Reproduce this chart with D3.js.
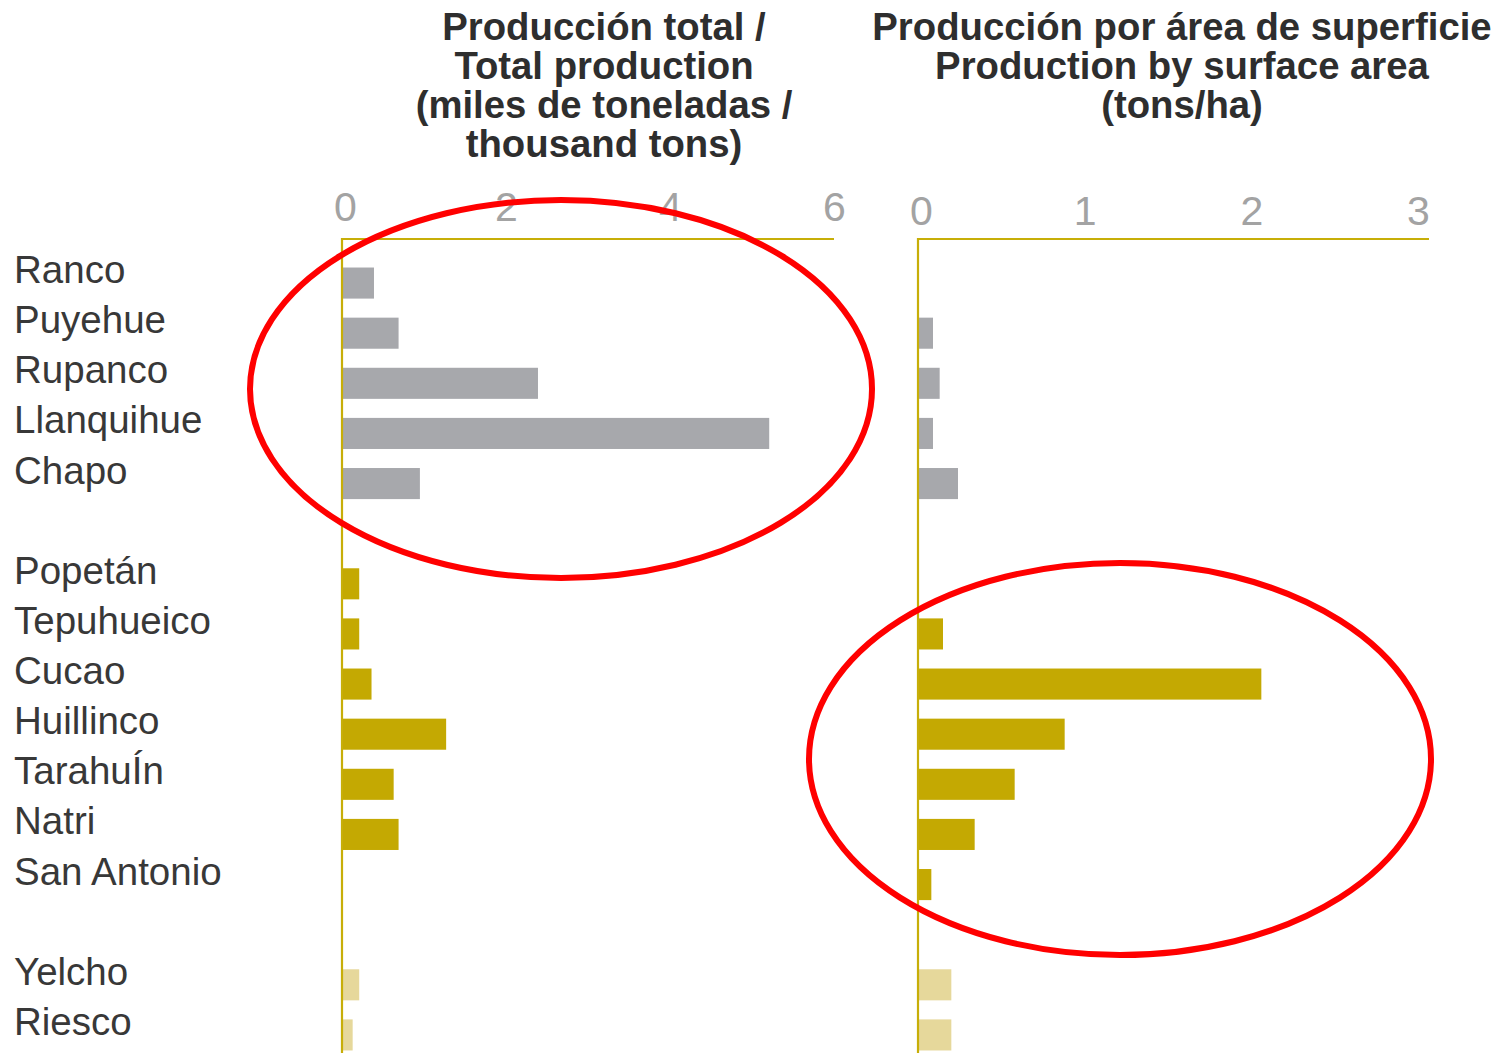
<!DOCTYPE html>
<html>
<head>
<meta charset="utf-8">
<script src="https://cdn.jsdelivr.net/npm/d3@7"></script>
<style>
  html, body { margin: 0; padding: 0; background: #fff; }
  svg { display: block; }
</style>
</head>
<body>
<svg id="chart" width="1507" height="1053"></svg>
<script>
// ---- data ----
const lakes = ["Ranco", "Puyehue", "Rupanco", "Llanquihue", "Chapo",
  "Popetán", "Tepuhueico", "Cucao", "Huillinco", "TarahuÍn", "Natri", "San Antonio",
  "Yelcho", "Riesco"];
const groups = [0, 0, 0, 0, 0, 1, 1, 1, 1, 1, 1, 1, 2, 2];
const totalProduction = [0.39, 0.69, 2.39, 5.21, 0.95, 0.21, 0.21, 0.36, 1.27, 0.63, 0.69, null, 0.21, 0.13];
const productionPerHa = [null, 0.09, 0.13, 0.09, 0.24, null, 0.15, 2.06, 0.88, 0.58, 0.34, 0.08, 0.20, 0.20];
const leftTicks = [0, 2, 4, 6];
const rightTicks = [0, 1, 2, 3];
const leftTitle = ["Producción total /", "Total production", "(miles de toneladas /", "thousand tons)"];
const rightTitle = ["Producción por área de superficie", "Production by surface area", "(tons/ha)"];
const groupColors = ["#a7a8ac", "#c4a902", "#e6d89b"];

// ---- layout ----
const svg = d3.select("#chart");
const axisColor = "#c7ae08";
const rows = lakes.map((name, i) => ({ name, i, row: i + groups[i], g: groups[i] }));
const y = d3.scaleBand().domain(d3.range(16)).range([258, 1060]).paddingInner(0.38).paddingOuter(0.19);
const xL = d3.scaleLinear().domain([0, 6]).range([342, 834]);
const xR = d3.scaleLinear().domain([0, 3]).range([918, 1418]);
const axisTop = 239;

// category labels
svg.append("g").selectAll("text").data(rows).join("text")
  .attr("x", 14)
  .attr("y", d => y(d.row) + y.bandwidth() / 2)
  .attr("font-family", "Liberation Sans, Arial, sans-serif")
  .attr("font-size", 38.5)
  .attr("fill", "#383838")
  .text(d => d.name);

function panel(x, values, ticks, title, titleX, lineEnd, tickY) {
  const g = svg.append("g");
  // title
  g.append("text")
    .attr("text-anchor", "middle")
    .attr("font-family", "Liberation Sans, Arial, sans-serif")
    .attr("font-weight", "bold")
    .attr("font-size", 38.3)
    .attr("fill", "#2e2e2e")
    .selectAll("tspan").data(title).join("tspan")
    .attr("x", titleX)
    .attr("y", (d, i) => 40 + i * 39)
    .text(d => d);
  // tick labels
  const ax = d3.axisTop(x).tickValues(ticks).tickSize(0).tickPadding(0).tickFormat(d3.format("d"));
  const axg = g.append("g").attr("transform", `translate(0,${tickY})`).call(ax);
  axg.select(".domain").remove();
  axg.selectAll("text")
    .attr("font-family", "Liberation Sans, Arial, sans-serif")
    .attr("font-size", 41)
    .attr("fill", "#a3a3a3")
    .attr("dx", (d) => d === 0 ? 3 : 0);
  // bars
  const data = rows.filter(d => values[d.i] != null && values[d.i] > 0);
  g.append("g").selectAll("rect").data(data).join("rect")
    .attr("x", x(0))
    .attr("y", d => y(d.row))
    .attr("width", d => x(values[d.i]) - x(0))
    .attr("height", y.bandwidth())
    .attr("fill", d => groupColors[d.g]);
  // axis lines
  g.append("line")
    .attr("x1", x(0)).attr("x2", lineEnd)
    .attr("y1", axisTop).attr("y2", axisTop)
    .attr("stroke", axisColor).attr("stroke-width", 2.2);
  g.append("line")
    .attr("x1", x(0)).attr("x2", x(0))
    .attr("y1", axisTop - 1.1).attr("y2", 1053)
    .attr("stroke", axisColor).attr("stroke-width", 2.2);
}

panel(xL, totalProduction, leftTicks, leftTitle, 604, xL(6), 221);
panel(xR, productionPerHa, rightTicks, rightTitle, 1182, xR(3) + 11, 225);

// highlight ellipses
svg.append("ellipse")
  .attr("cx", 561).attr("cy", 389).attr("rx", 311).attr("ry", 189)
  .attr("fill", "none").attr("stroke", "#ff0000").attr("stroke-width", 6);
svg.append("ellipse")
  .attr("cx", 1120).attr("cy", 759).attr("rx", 311).attr("ry", 196)
  .attr("fill", "none").attr("stroke", "#ff0000").attr("stroke-width", 6);
</script>
</body>
</html>
